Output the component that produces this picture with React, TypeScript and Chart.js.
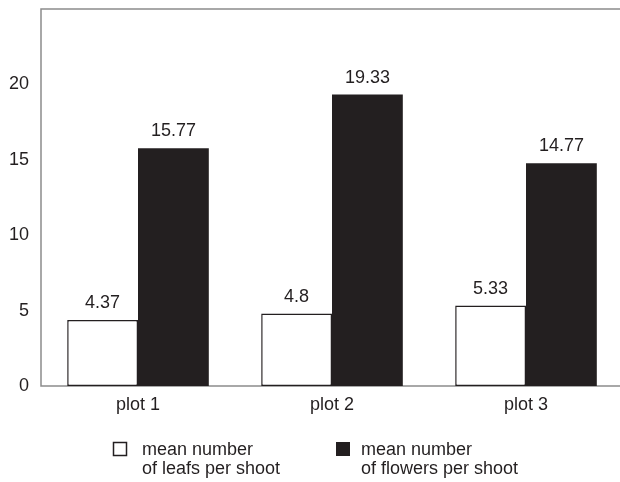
import React, { useEffect, useRef } from "react";
import { Chart, registerables } from "chart.js";

Chart.register(...registerables);

const categories = ["plot 1", "plot 2", "plot 3"];
const leafs = [4.37, 4.8, 5.33];
const flowers = [15.77, 19.33, 14.77];
const leafLabels = ["4.37", "4.8", "5.33"];
const flowerLabels = ["15.77", "19.33", "14.77"];
const legendLeafs = ["mean number", "of leafs per shoot"];
const legendFlowers = ["mean number", "of flowers per shoot"];

const FONT = "'Liberation Sans', Arial, sans-serif";
const INK = "#231f20";
const FS = 18;

const frame = {
  id: "frame",
  beforeDatasetsDraw(chart: any) {
    const { ctx, chartArea } = chart;
    ctx.save();
    ctx.strokeStyle = "#8c8c8c";
    ctx.lineWidth = 1.5;
    ctx.beginPath();
    ctx.moveTo(chartArea.right + 5, chartArea.top);
    ctx.lineTo(chartArea.left, chartArea.top);
    ctx.lineTo(chartArea.left, chartArea.bottom);
    ctx.lineTo(chartArea.right + 5, chartArea.bottom);
    ctx.stroke();
    ctx.restore();
  },
};

const labelsPlugin = {
  id: "valueLabels",
  afterDatasetsDraw(chart: any) {
    const { ctx } = chart;
    const texts = [leafLabels, flowerLabels];
    ctx.save();
    ctx.font = `${FS}px ${FONT}`;
    ctx.fillStyle = INK;
    ctx.textAlign = "center";
    ctx.textBaseline = "alphabetic";
    chart.data.datasets.forEach((_: any, di: number) => {
      const meta = chart.getDatasetMeta(di);
      meta.data.forEach((bar: any, i: number) => {
        ctx.fillText(texts[di][i], bar.x, bar.y - 12);
      });
    });
    ctx.restore();
  },
};

const legendPlugin = {
  id: "customLegend",
  afterDraw(chart: any) {
    const { ctx } = chart;
    ctx.save();
    ctx.font = `${FS}px ${FONT}`;
    ctx.textBaseline = "alphabetic";
    ctx.textAlign = "left";
    ctx.fillStyle = "#ffffff";
    ctx.fillRect(113.5, 442.5, 13, 13);
    ctx.strokeStyle = INK;
    ctx.lineWidth = 1.5;
    ctx.strokeRect(113.5, 442.5, 13, 13);
    ctx.fillStyle = INK;
    legendLeafs.forEach((t, i) => ctx.fillText(t, 142, 455 + i * 19));
    ctx.fillRect(336, 442, 14, 14);
    legendFlowers.forEach((t, i) => ctx.fillText(t, 361, 455 + i * 19));
    ctx.restore();
  },
};

export default function App() {
  const ref = useRef<HTMLCanvasElement>(null);
  useEffect(() => {
    if (!ref.current) return;
    const chart = new Chart(ref.current, {
      type: "bar",
      data: {
        labels: categories,
        datasets: [
          {
            label: legendLeafs.join(" "),
            data: leafs,
            backgroundColor: "#ffffff",
            borderColor: INK,
            borderWidth: 1.5,
            borderSkipped: false,
          },
          {
            label: legendFlowers.join(" "),
            data: flowers,
            backgroundColor: INK,
            borderColor: INK,
            borderWidth: 0,
          },
        ],
      },
      options: {
        animation: false,
        responsive: false,
        maintainAspectRatio: false,
        layout: { padding: { top: 9, right: 3, left: 0, bottom: 0 } },
        datasets: { bar: { categoryPercentage: 0.73, barPercentage: 1 } },
        plugins: {
          legend: { display: false },
          tooltip: { enabled: false },
        },
        scales: {
          x: {
            grid: { display: false, drawTicks: false },
            border: { display: false },
            ticks: {
              color: INK,
              font: { family: FONT, size: FS },
              padding: 8,
            },
            afterFit(scale: any) {
              scale.height = 96;
              scale.paddingLeft = 0;
              scale.paddingRight = 0;
            },
          },
          y: {
            min: 0,
            max: 25,
            grid: { display: false, drawTicks: false },
            border: { display: false },
            ticks: {
              stepSize: 5,
              color: INK,
              font: { family: FONT, size: FS },
              padding: 12,
              callback: (v: any) => (v === 25 ? "" : String(v)),
            },
            afterFit(scale: any) {
              scale.width = 41;
              scale.paddingTop = 0;
              scale.paddingBottom = 0;
            },
          },
        },
      },
      plugins: [frame, labelsPlugin, legendPlugin],
    });
    return () => chart.destroy();
  }, []);
  return (
    <div
      style={{
        position: "fixed",
        left: 0,
        top: 0,
        width: 620,
        height: 482,
        overflow: "hidden",
        background: "#fff",
      }}
    >
      <canvas ref={ref} width={626} height={482} style={{ display: "block" }} />
    </div>
  );
}
